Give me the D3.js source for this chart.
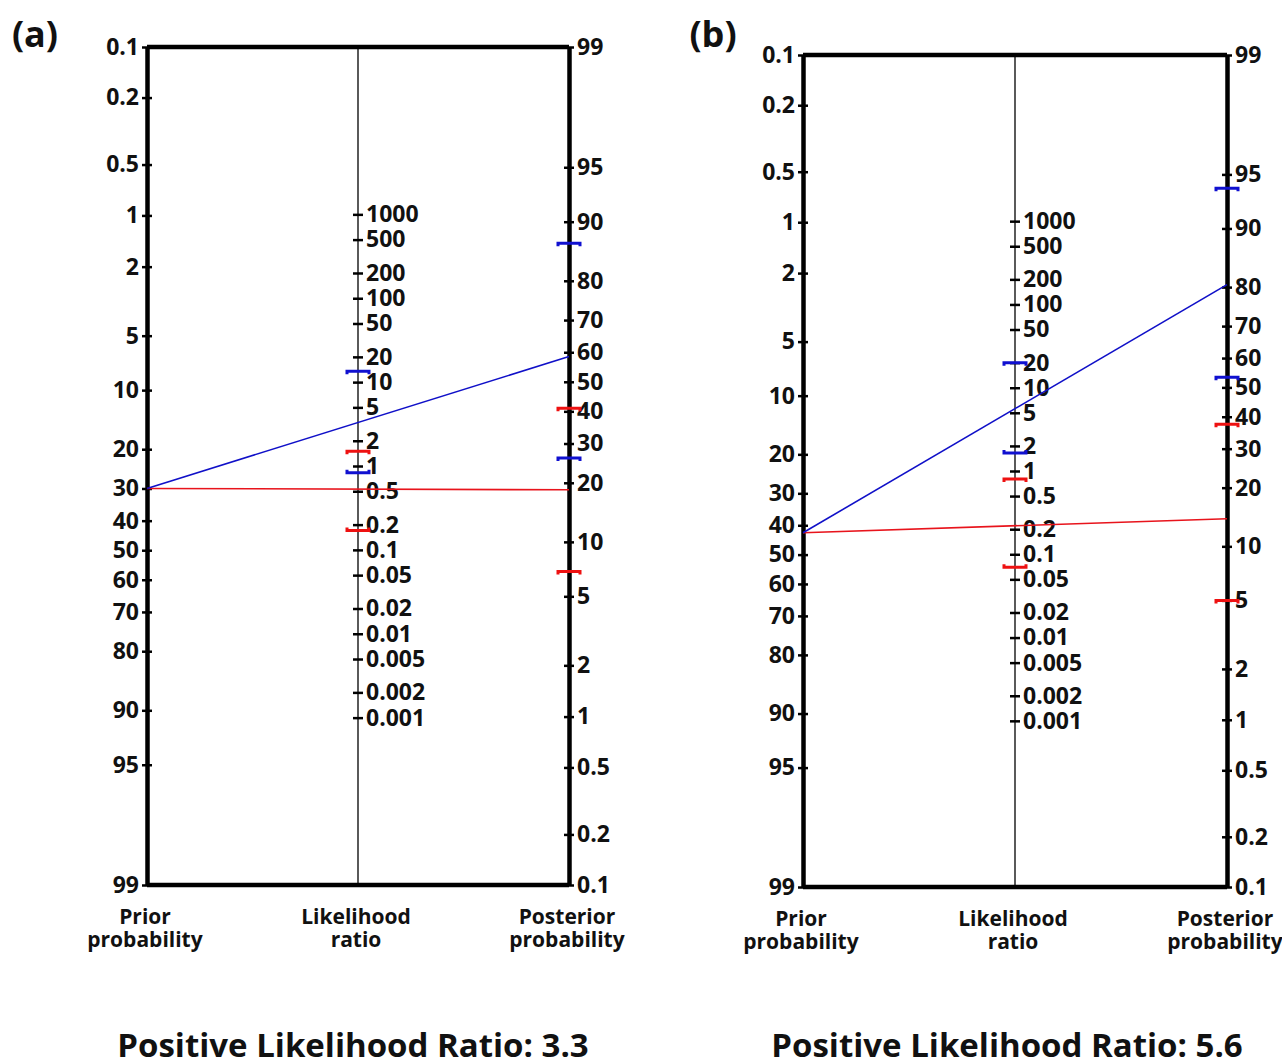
<!DOCTYPE html>
<html>
<head>
<meta charset="utf-8">
<script src="https://cdn.jsdelivr.net/npm/d3@7"></script>
<style>
  body { margin: 0; background: #fff; }
  svg text { font-family: "Open Sans", "Noto Sans", sans-serif; font-weight: bold; fill: #111; }
</style>
</head>
<body>
<svg id="chart" width="1282" height="1064"></svg>
<script>
// Fagan nomogram data
var panelNames = ["(a)", "(b)"];
var titles = ["Positive Likelihood Ratio: 3.3", "Positive Likelihood Ratio: 5.6"];
var priorTicks = [0.1, 0.2, 0.5, 1, 2, 5, 10, 20, 30, 40, 50, 60, 70, 80, 90, 95, 99];
var posteriorTicks = [99, 95, 90, 80, 70, 60, 50, 40, 30, 20, 10, 5, 2, 1, 0.5, 0.2, 0.1];
var lrTicks = [1000, 500, 200, 100, 50, 20, 10, 5, 2, 1, 0.5, 0.2, 0.1, 0.05, 0.02, 0.01, 0.005, 0.002, 0.001];
var priorProb = [30, 42.5];
var lrPositive = [3.3, 5.6];
var lrNegative = [0.53, 0.22];
var lrPosCI = [[13.5, 0.83], [20, 1.64]];
var lrNegCI = [[1.5, 0.17], [0.8, 0.07]];
var postPosCI = [[87, 26], [94, 53.5]];
var postNegCI = [[41, 6.9], [37.5, 5]];

var logit = p => Math.log(p / (100 - p));

var svg = d3.select("#chart");

// panel boxes
var boxes = [
  {left: 147, right: 569, top: 47, bottom: 885, labelX: 35, titleX: 353},
  {left: 803, right: 1227, top: 55, bottom: 887, labelX: 713, titleX: 1007}
];

boxes.forEach(function(b, i) {
  var g = svg.append("g");
  var mid = (b.left + b.right) / 2;
  var k = (b.bottom - b.top) / (logit(99) - logit(0.1));

  var prior = d3.scaleLinear().domain([logit(0.1), logit(99)]).range([b.top, b.bottom]);
  var post = d3.scaleLinear().domain([logit(99), logit(0.1)]).range([b.top, b.bottom]);
  var c = (b.top + b.bottom) / 2;
  var lr = d3.scaleLog().domain([1000, 0.001])
    .range([c - k / 2 * Math.log(1000), c + k / 2 * Math.log(1000)]);

  // middle LR line (thin)
  g.append("line").attr("x1", mid).attr("x2", mid).attr("y1", b.top).attr("y2", b.bottom)
    .attr("stroke", "#000").attr("stroke-width", 1.3);

  // top and bottom edges
  [b.top, b.bottom].forEach(function(y) {
    g.append("line").attr("x1", b.left).attr("x2", b.right).attr("y1", y).attr("y2", y)
      .attr("stroke", "#000").attr("stroke-width", 4.5);
  });

  function styleAxis(sel, w) {
    sel.select(".domain").attr("stroke-width", w).attr("stroke", "#000");
    sel.selectAll(".tick line").attr("x1", -5).attr("x2", 5).attr("stroke-width", 2.5).attr("stroke", "#000");
    sel.selectAll(".tick text").style("font-size", "23px").attr("fill", "#111");
  }

  var axL = g.append("g").attr("transform", "translate(" + b.left + ",0)")
    .call(d3.axisLeft(prior).tickValues(priorTicks.map(logit))
      .tickFormat((d, j) => priorTicks[j]).tickSize(4).tickSizeOuter(0).tickPadding(4));
  styleAxis(axL, 4.5);

  var axR = g.append("g").attr("transform", "translate(" + b.right + ",0)")
    .call(d3.axisRight(post).tickValues(posteriorTicks.map(logit))
      .tickFormat((d, j) => posteriorTicks[j]).tickSize(4).tickSizeOuter(0).tickPadding(4));
  styleAxis(axR, 4.5);

  var axM = g.append("g").attr("transform", "translate(" + mid + ",0)")
    .call(d3.axisRight(lr).tickValues(lrTicks).tickFormat(d => String(d))
      .tickSize(4).tickSizeOuter(0).tickPadding(4));
  axM.select(".domain").remove();
  styleAxis(axM, 1);

  // probability lines
  function drawLine(ratio, color) {
    var y0 = prior(logit(priorProb[i]));
    var y1 = post(logit(priorProb[i]) + Math.log(ratio));
    g.append("line").attr("x1", b.left).attr("y1", y0).attr("x2", b.right).attr("y2", y1)
      .attr("stroke", color).attr("stroke-width", 1.6);
  }
  drawLine(lrNegative[i], "#e8141c");
  drawLine(lrPositive[i], "#1010c8");

  // confidence interval brackets
  function bracket(x, y, dir, color) {
    g.append("path")
      .attr("d", "M" + (x - 11) + "," + (y + dir * 3) + "L" + (x - 11) + "," + y +
        "L" + (x + 11) + "," + y + "L" + (x + 11) + "," + (y + dir * 3))
      .attr("fill", "none").attr("stroke", color).attr("stroke-width", 3);
  }
  bracket(mid, lr(lrPosCI[i][0]), 1, "#1010d0");
  bracket(mid, lr(lrPosCI[i][1]), -1, "#1010d0");
  bracket(mid, lr(lrNegCI[i][0]), 1, "#ee1111");
  bracket(mid, lr(lrNegCI[i][1]), -1, "#ee1111");
  bracket(b.right, post(logit(postPosCI[i][0])), 1, "#1010d0");
  bracket(b.right, post(logit(postPosCI[i][1])), 1, "#1010d0");
  bracket(b.right, post(logit(postNegCI[i][0])), 1, "#ee1111");
  bracket(b.right, post(logit(postNegCI[i][1])), 1, "#ee1111");

  // axis titles, two lines each
  var names = [["Prior", "probability"], ["Likelihood", "ratio"], ["Posterior", "probability"]];
  [b.left, mid, b.right].forEach(function(x, j) {
    names[j].forEach(function(s, n) {
      g.append("text").attr("x", x - 2).attr("y", b.bottom + 39 + n * 23)
        .attr("text-anchor", "middle").style("font-size", "21px").text(s);
    });
  });

  // panel label and bottom title
  g.append("text").attr("x", b.labelX).attr("y", 47).attr("text-anchor", "middle")
    .style("font-size", "36px").text(panelNames[i]);
  g.append("text").attr("x", b.titleX).attr("y", 1057).attr("text-anchor", "middle")
    .style("font-size", "33px").text(titles[i]);
});
</script>
</body>
</html>
